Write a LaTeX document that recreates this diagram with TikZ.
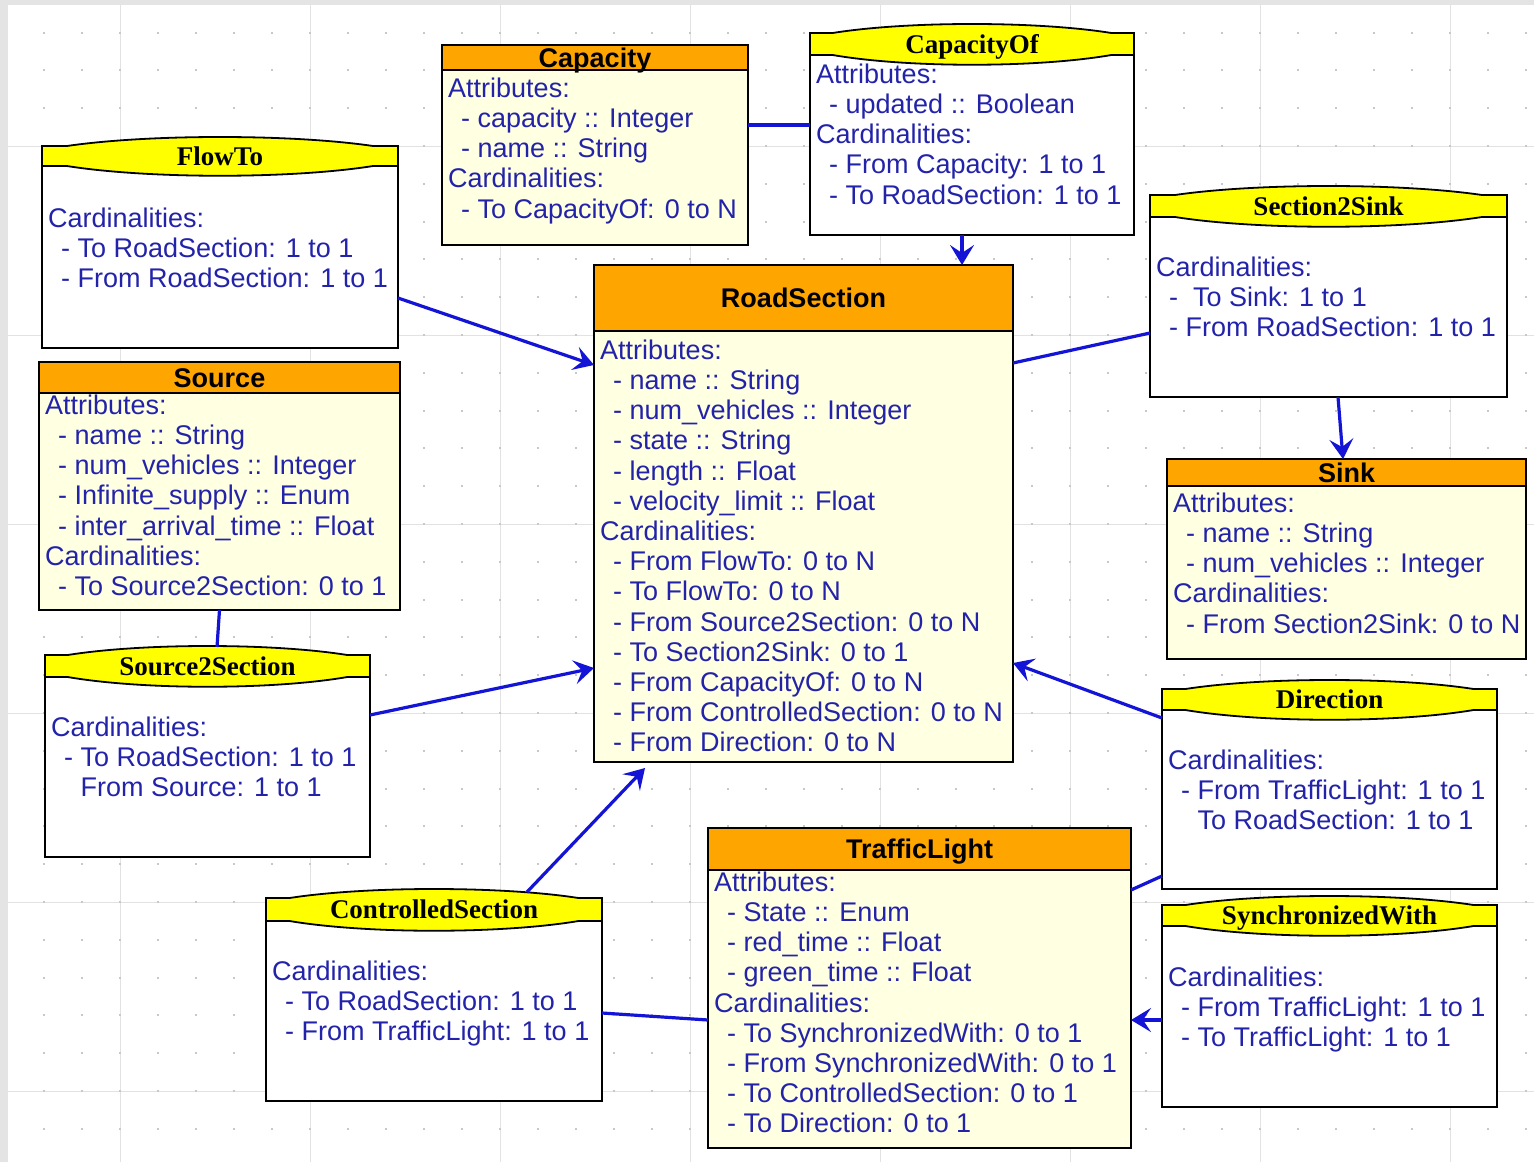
\documentclass[tikz,border=0pt]{standalone}
\usepackage{fontspec}
\setmainfont{Liberation Sans}
\newfontfamily\titleserif{Liberation Serif}
\usetikzlibrary{arrows.meta}

\definecolor{entorange}{RGB}{255,165,0}
\definecolor{entcream}{RGB}{255,255,226}
\definecolor{relyellow}{RGB}{255,255,0}
\definecolor{txtblue}{RGB}{35,35,170}
\definecolor{linkblue}{RGB}{20,20,215}
\definecolor{gridgray}{RGB}{226,226,226}
\definecolor{dotgray}{RGB}{200,200,200}
\definecolor{framegray}{RGB}{228,228,228}

\newcommand\bodyfont{\fontsize{27}{30.2}\selectfont}
\newcommand\itm{\hspace*{13pt}- }
\newcommand\itmcont{\hspace*{13pt}\phantom{-} }

\tikzset{
  boxframe/.style={draw=black, line width=1.8pt},
  entity/.style={boxframe, fill=entcream, anchor=north west, inner sep=0pt, outer sep=0pt},
  relation/.style={boxframe, fill=white, anchor=north west, inner sep=0pt, outer sep=0pt},
  enttitle/.style={font=\fontsize{27}{27}\selectfont\bfseries, text=black, inner sep=0pt, anchor=base},
  reltitle/.style={font=\titleserif\fontsize{27}{27}\selectfont\bfseries, text=black, inner sep=0pt, anchor=base},
  bodytext/.style={anchor=north west, inner sep=0pt, align=left, font=\bodyfont, text=txtblue},
  link/.style={draw=linkblue, line width=3.2pt},
  linkarrow/.style={link, -{Stealth[length=20pt, width=24pt, inset=8pt]}},
}

% entity class: orange header, cream body
% #1 name, #2 left, #3 top, #4 right, #5 header bottom, #6 bottom, #7 title, #8 first text line, #9 text
\newcommand\entbox[9]{%
  \node[entity, minimum width={#4pt-#2pt}, minimum height={#6pt-#3pt}] (#1) at (#2,#3) {};
  \draw[boxframe, fill=entorange] (#2,#3) rectangle (#4,#5);
  \node[enttitle] (#1-title) at ({(#2+#4)/2},{(#3+#5)/2+9.5}) {#7};
  \node[bodytext] (#1-text) at (#2+6,#8-12) {\rule{0pt}{22pt}#9};
}

% relation class: yellow bulged header, white body
\newcommand\relbox[9]{%
  \node[relation, minimum width={#4pt-#2pt}, minimum height={#6pt-#3pt}] (#1) at (#2,#3) {};
  \pgfmathsetmacro\hdA{#2+0.07*(#4-#2)}%
  \pgfmathsetmacro\hdB{#2+0.3*(#4-#2)}%
  \pgfmathsetmacro\hdC{#4-0.3*(#4-#2)}%
  \pgfmathsetmacro\hdD{#4-0.07*(#4-#2)}%
  \pgfmathsetmacro\hdT{#3-12}%
  \pgfmathsetmacro\hdU{#5+13}%
  \filldraw[boxframe, fill=relyellow] (#2,#5) -- (#2,#3) -- (\hdA,#3)
     .. controls (\hdB,\hdT) and (\hdC,\hdT) .. (\hdD,#3) -- (#4,#3) -- (#4,#5) -- (\hdD,#5)
     .. controls (\hdC,\hdU) and (\hdB,\hdU) .. (\hdA,#5) -- cycle;
  \node[reltitle] (#1-title) at ({(#2+#4)/2},{(#3+#5)/2+9}) {#7};
  \node[bodytext] (#1-text) at (#2+6,#8-12) {\rule{0pt}{22pt}#9};
}

\begin{document}
\begin{tikzpicture}[x=1pt, y=-1pt]
\useasboundingbox (0,0) rectangle (1534,1162);

% canvas with grid
\fill[white] (0,0) rectangle (1534,1162);
\fill[framegray] (0,0) rectangle (8,1162);
\fill[framegray] (0,0) rectangle (1534,5);
\foreach \gx in {120,310,...,1450} \draw[gridgray, line width=1pt] (\gx,5) -- (\gx,1162);
\foreach \gy in {146,335,...,1092} \draw[gridgray, line width=1pt] (8,\gy) -- (1534,\gy);
\foreach \i in {-2,...,37} {
  \foreach \j in {-3,...,27} {
    \fill[dotgray] ({120+38*\i-1},{146+37.8*\j-1}) rectangle +(2,2);
  }
}

% classes
\relbox{flowto}{42}{146}{398}{166}{348}{FlowTo}{217}{%
Cardinalities:\\
\itm To RoadSection: 1 to 1\\
\itm From RoadSection: 1 to 1}

\entbox{capacity}{442}{45}{748}{70}{245}{Capacity}{87}{%
Attributes:\\
\itm capacity :: Integer\\
\itm name :: String\\
Cardinalities:\\
\itm To CapacityOf: 0 to N}

\relbox{capof}{810}{33}{1134}{55}{235}{CapacityOf}{73}{%
Attributes:\\
\itm updated :: Boolean\\
Cardinalities:\\
\itm From Capacity: 1 to 1\\
\itm To RoadSection: 1 to 1}

\relbox{s2sink}{1150}{195}{1507}{217}{397}{Section2Sink}{266}{%
Cardinalities:\\
\itm\ To Sink: 1 to 1\\
\itm From RoadSection: 1 to 1}

\entbox{road}{594}{265}{1013}{331}{762}{RoadSection}{349}{%
Attributes:\\
\itm name :: String\\
\itm num\_vehicles :: Integer\\
\itm state :: String\\
\itm length :: Float\\
\itm velocity\_limit :: Float\\
Cardinalities:\\
\itm From FlowTo: 0 to N\\
\itm To FlowTo: 0 to N\\
\itm From Source2Section: 0 to N\\
\itm To Section2Sink: 0 to 1\\
\itm From CapacityOf: 0 to N\\
\itm From ControlledSection: 0 to N\\
\itm From Direction: 0 to N}

\entbox{source}{39}{362}{400}{393}{610}{Source}{404}{%
Attributes:\\
\itm name :: String\\
\itm num\_vehicles :: Integer\\
\itm Infinite\_supply :: Enum\\
\itm inter\_arrival\_time :: Float\\
Cardinalities:\\
\itm To Source2Section: 0 to 1}

\entbox{sink}{1167}{459}{1526}{486}{659}{Sink}{502}{%
Attributes:\\
\itm name :: String\\
\itm num\_vehicles :: Integer\\
Cardinalities:\\
\itm From Section2Sink: 0 to N}

\relbox{s2sec}{45}{655}{370}{677}{857}{Source2Section}{726}{%
Cardinalities:\\
\itm To RoadSection: 1 to 1\\
\itmcont From Source: 1 to 1}

\relbox{direction}{1162}{689}{1497}{710}{889}{Direction}{759}{%
Cardinalities:\\
\itm From TrafficLight: 1 to 1\\
\itmcont To RoadSection: 1 to 1}

\entbox{traffic}{708}{828}{1131}{870}{1148}{TrafficLight}{881}{%
Attributes:\\
\itm State :: Enum\\
\itm red\_time :: Float\\
\itm green\_time :: Float\\
Cardinalities:\\
\itm To SynchronizedWith: 0 to 1\\
\itm From SynchronizedWith: 0 to 1\\
\itm To ControlledSection: 0 to 1\\
\itm To Direction: 0 to 1}

\relbox{ctrl}{266}{898}{602}{921}{1101}{ControlledSection}{970}{%
Cardinalities:\\
\itm To RoadSection: 1 to 1\\
\itm From TrafficLight: 1 to 1}

\relbox{sync}{1162}{905}{1497}{926}{1107}{SynchronizedWith}{976}{%
Cardinalities:\\
\itm From TrafficLight: 1 to 1\\
\itm To TrafficLight: 1 to 1}

% associations
\draw[linkarrow] ([yshift=-51pt]flowto.east) -- ([yshift=148.5pt]road.west);
\draw[link] ([yshift=20pt]capacity.east) -- ([yshift=9pt]capof.west);
\draw[linkarrow] ([xshift=-10pt]capof.south) -- ([xshift=158.5pt]road.north);
\draw[link] ([yshift=150.5pt]road.east) -- ([yshift=-37pt]s2sink.west);
\draw[linkarrow] ([xshift=9.5pt]s2sink.south) -- ([xshift=-3.5pt]sink.north);
\draw[link] (source.south) -- ([xshift=9.5pt, yshift=8pt]s2sec.north);
\draw[linkarrow] ([yshift=41pt]s2sec.east) -- ([yshift=-154.5pt]road.west);
\draw[linkarrow] ([yshift=71pt]direction.west) -- ([yshift=-149.5pt]road.east);
\draw[linkarrow] ([xshift=93pt, yshift=6pt]ctrl.north) -- ([xshift=-158.5pt, yshift=-6pt]road.south);
\draw[link] ([yshift=-13.5pt]ctrl.east) -- ([yshift=-32pt]traffic.west);
\draw[link] ([yshift=98pt]traffic.east) -- ([yshift=-87pt]direction.west);
\draw[linkarrow] ([yshift=-14pt]sync.west) -- ([yshift=-32pt]traffic.east);

\end{tikzpicture}
\end{document}
